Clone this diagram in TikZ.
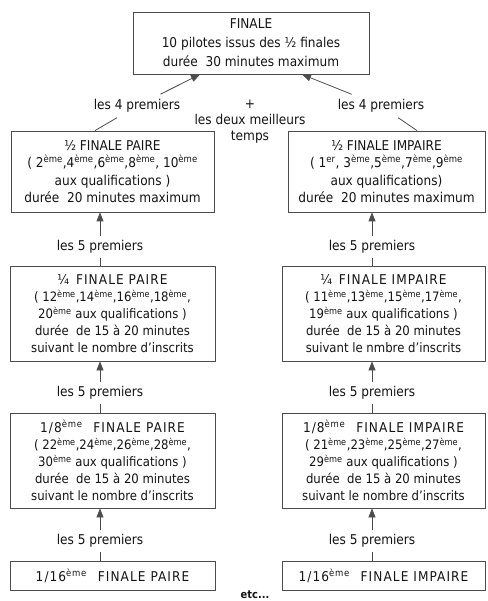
\documentclass[tikz,border=0pt]{standalone}
\usepackage{fontspec}
\setmainfont{DejaVu Sans Condensed}
\usetikzlibrary{arrows.meta}
\newlength{\du}
\setlength{\du}{1pt}
\definecolor{dialinecolor}{rgb}{0.300000, 0.300000, 0.300000}
\definecolor{textecolor}{rgb}{0.080000, 0.080000, 0.080000}
\newcommand{\eme}{\textsuperscript{ème}}
\newcommand{\titre}[1]{{\fontsize{13.5}{17}\selectfont\addfontfeature{LetterSpace=8}#1}}
\tikzset{
  boite/.style={draw=dialinecolor, line width=0.8\du, align=center, inner sep=0pt, text=textecolor},
  grande/.style={font=\fontsize{13.5}{17.5}\selectfont},
  petite/.style={font=\fontsize{13}{17}\selectfont},
  legende/.style={fill=white, inner xsep=2\du, inner ysep=4\du, text=textecolor, font=\fontsize{13.5}{16}\selectfont},
  trait/.style={draw=dialinecolor, line width=0.8\du},
  fleche/.style={trait, -{Triangle[width=7pt,length=9pt]}},
}

\begin{document}
\begin{tikzpicture}
\pgftransformxscale{1.000000}
\pgftransformyscale{-1.000000}
\useasboundingbox (0\du,0\du) rectangle (487\du,601\du);
% boites
\node[boite,grande,font=\fontsize{13.5}{19}\selectfont,minimum width=236\du,minimum height=62\du] (finale) at (251\du,43\du){FINALE\\10 pilotes issus des ½ finales\\durée~ 30 minutes maximum};
\node[boite,grande,minimum width=203\du,minimum height=81\du] (demiP) at (112.5\du,171.5\du){½ FINALE PAIRE\\( 2\eme,4\eme,6\eme,8\eme, 10\eme\\aux qualifications )\\durée~ 20 minutes maximum};
\node[boite,grande,minimum width=197\du,minimum height=81\du] (demiI) at (386.5\du,171.5\du){½ FINALE IMPAIRE\\( 1\textsuperscript{er}, 3\eme,5\eme,7\eme,9\eme\\aux qualifications)\\durée~ 20 minutes maximum};
\node[boite,petite,minimum width=205\du,minimum height=95\du] (quartP) at (112.5\du,313.5\du){\titre{¼\hspace{0.5em}FINALE PAIRE}\\( 12\eme,14\eme,16\eme,18\eme,\\20\eme{} aux qualifications )\\durée~ de 15 à 20 minutes\\suivant le nombre d’inscrits};
\node[boite,petite,minimum width=203\du,minimum height=95\du] (quartI) at (383.5\du,313.5\du){\titre{¼\hspace{0.5em}FINALE IMPAIRE}\\( 11\eme,13\eme,15\eme,17\eme,\\19\eme{} aux qualifications )\\durée~ de 15 à 20 minutes\\suivant le nmbre d’inscrits};
\node[boite,petite,minimum width=205\du,minimum height=95\du] (huitP) at (112.5\du,460.5\du){\titre{1/8\eme\hspace{0.8em}FINALE PAIRE}\\( 22\eme,24\eme,26\eme,28\eme,\\30\eme{} aux qualifications )\\durée~ de 15 à 20 minutes\\suivant le nombre d’inscrits};
\node[boite,petite,minimum width=203\du,minimum height=95\du] (huitI) at (383.5\du,460.5\du){\titre{1/8\eme\hspace{0.8em}FINALE IMPAIRE}\\( 21\eme,23\eme,25\eme,27\eme,\\29\eme{} aux qualifications )\\durée~ de 15 à 20 minutes\\suivant le nombre d’inscrits};
\node[boite,petite,minimum width=205\du,minimum height=29\du] (seizeP) at (112.5\du,575.5\du){\titre{1/16\eme\hspace{0.8em}FINALE PAIRE}};
\node[boite,petite,minimum width=203\du,minimum height=29\du] (seizeI) at (383.5\du,575.5\du){\titre{1/16\eme\hspace{0.8em}FINALE IMPAIRE}};
% legendes
\node[legende,inner ysep=5\du] (l4P) at (137\du,106\du){les 4 premiers};
\node[legende,inner ysep=5\du] (l4I) at (381\du,106\du){les 4 premiers};
\node[legende,fill=none,align=center] (deux) at (250\du,122\du){+\\les deux meilleurs\\temps};
\node[legende] (l5P1) at (100\du,247\du){les 5 premiers};
\node[legende] (l5I1) at (372\du,247\du){les 5 premiers};
\node[legende] (l5P2) at (100\du,393\du){les 5 premiers};
\node[legende] (l5I2) at (372\du,393\du){les 5 premiers};
\node[legende] (l5P3) at (100\du,541\du){les 5 premiers};
\node[legende] (l5I3) at (372\du,541\du){les 5 premiers};
\node[font=\bfseries\fontsize{11}{12}\selectfont,text=textecolor] (etc) at (255\du,595\du){etc...};
% fleches
\draw[trait] ([xshift=-17.5\du]demiP.north)--(l4P);
\draw[fleche] (l4P)--([xshift=-51\du]finale.south);
\draw[trait] ([xshift=30.5\du]demiI.north)--(l4I);
\draw[fleche] (l4I)--([xshift=51\du]finale.south);
\draw[trait] (quartP.north -| l5P1)--(l5P1);
\draw[fleche] (l5P1)--(l5P1 |- demiP.south);
\draw[trait] (quartI.north -| l5I1)--(l5I1);
\draw[fleche] (l5I1)--(l5I1 |- demiI.south);
\draw[trait] (huitP.north -| l5P2)--(l5P2);
\draw[fleche] (l5P2)--(l5P2 |- quartP.south);
\draw[trait] (huitI.north -| l5I2)--(l5I2);
\draw[fleche] (l5I2)--(l5I2 |- quartI.south);
\draw[trait] (seizeP.north -| l5P3)--(l5P3);
\draw[fleche] (l5P3)--(l5P3 |- huitP.south);
\draw[trait] (seizeI.north -| l5I3)--(l5I3);
\draw[fleche] (l5I3)--(l5I3 |- huitI.south);
\end{tikzpicture}
\end{document}
